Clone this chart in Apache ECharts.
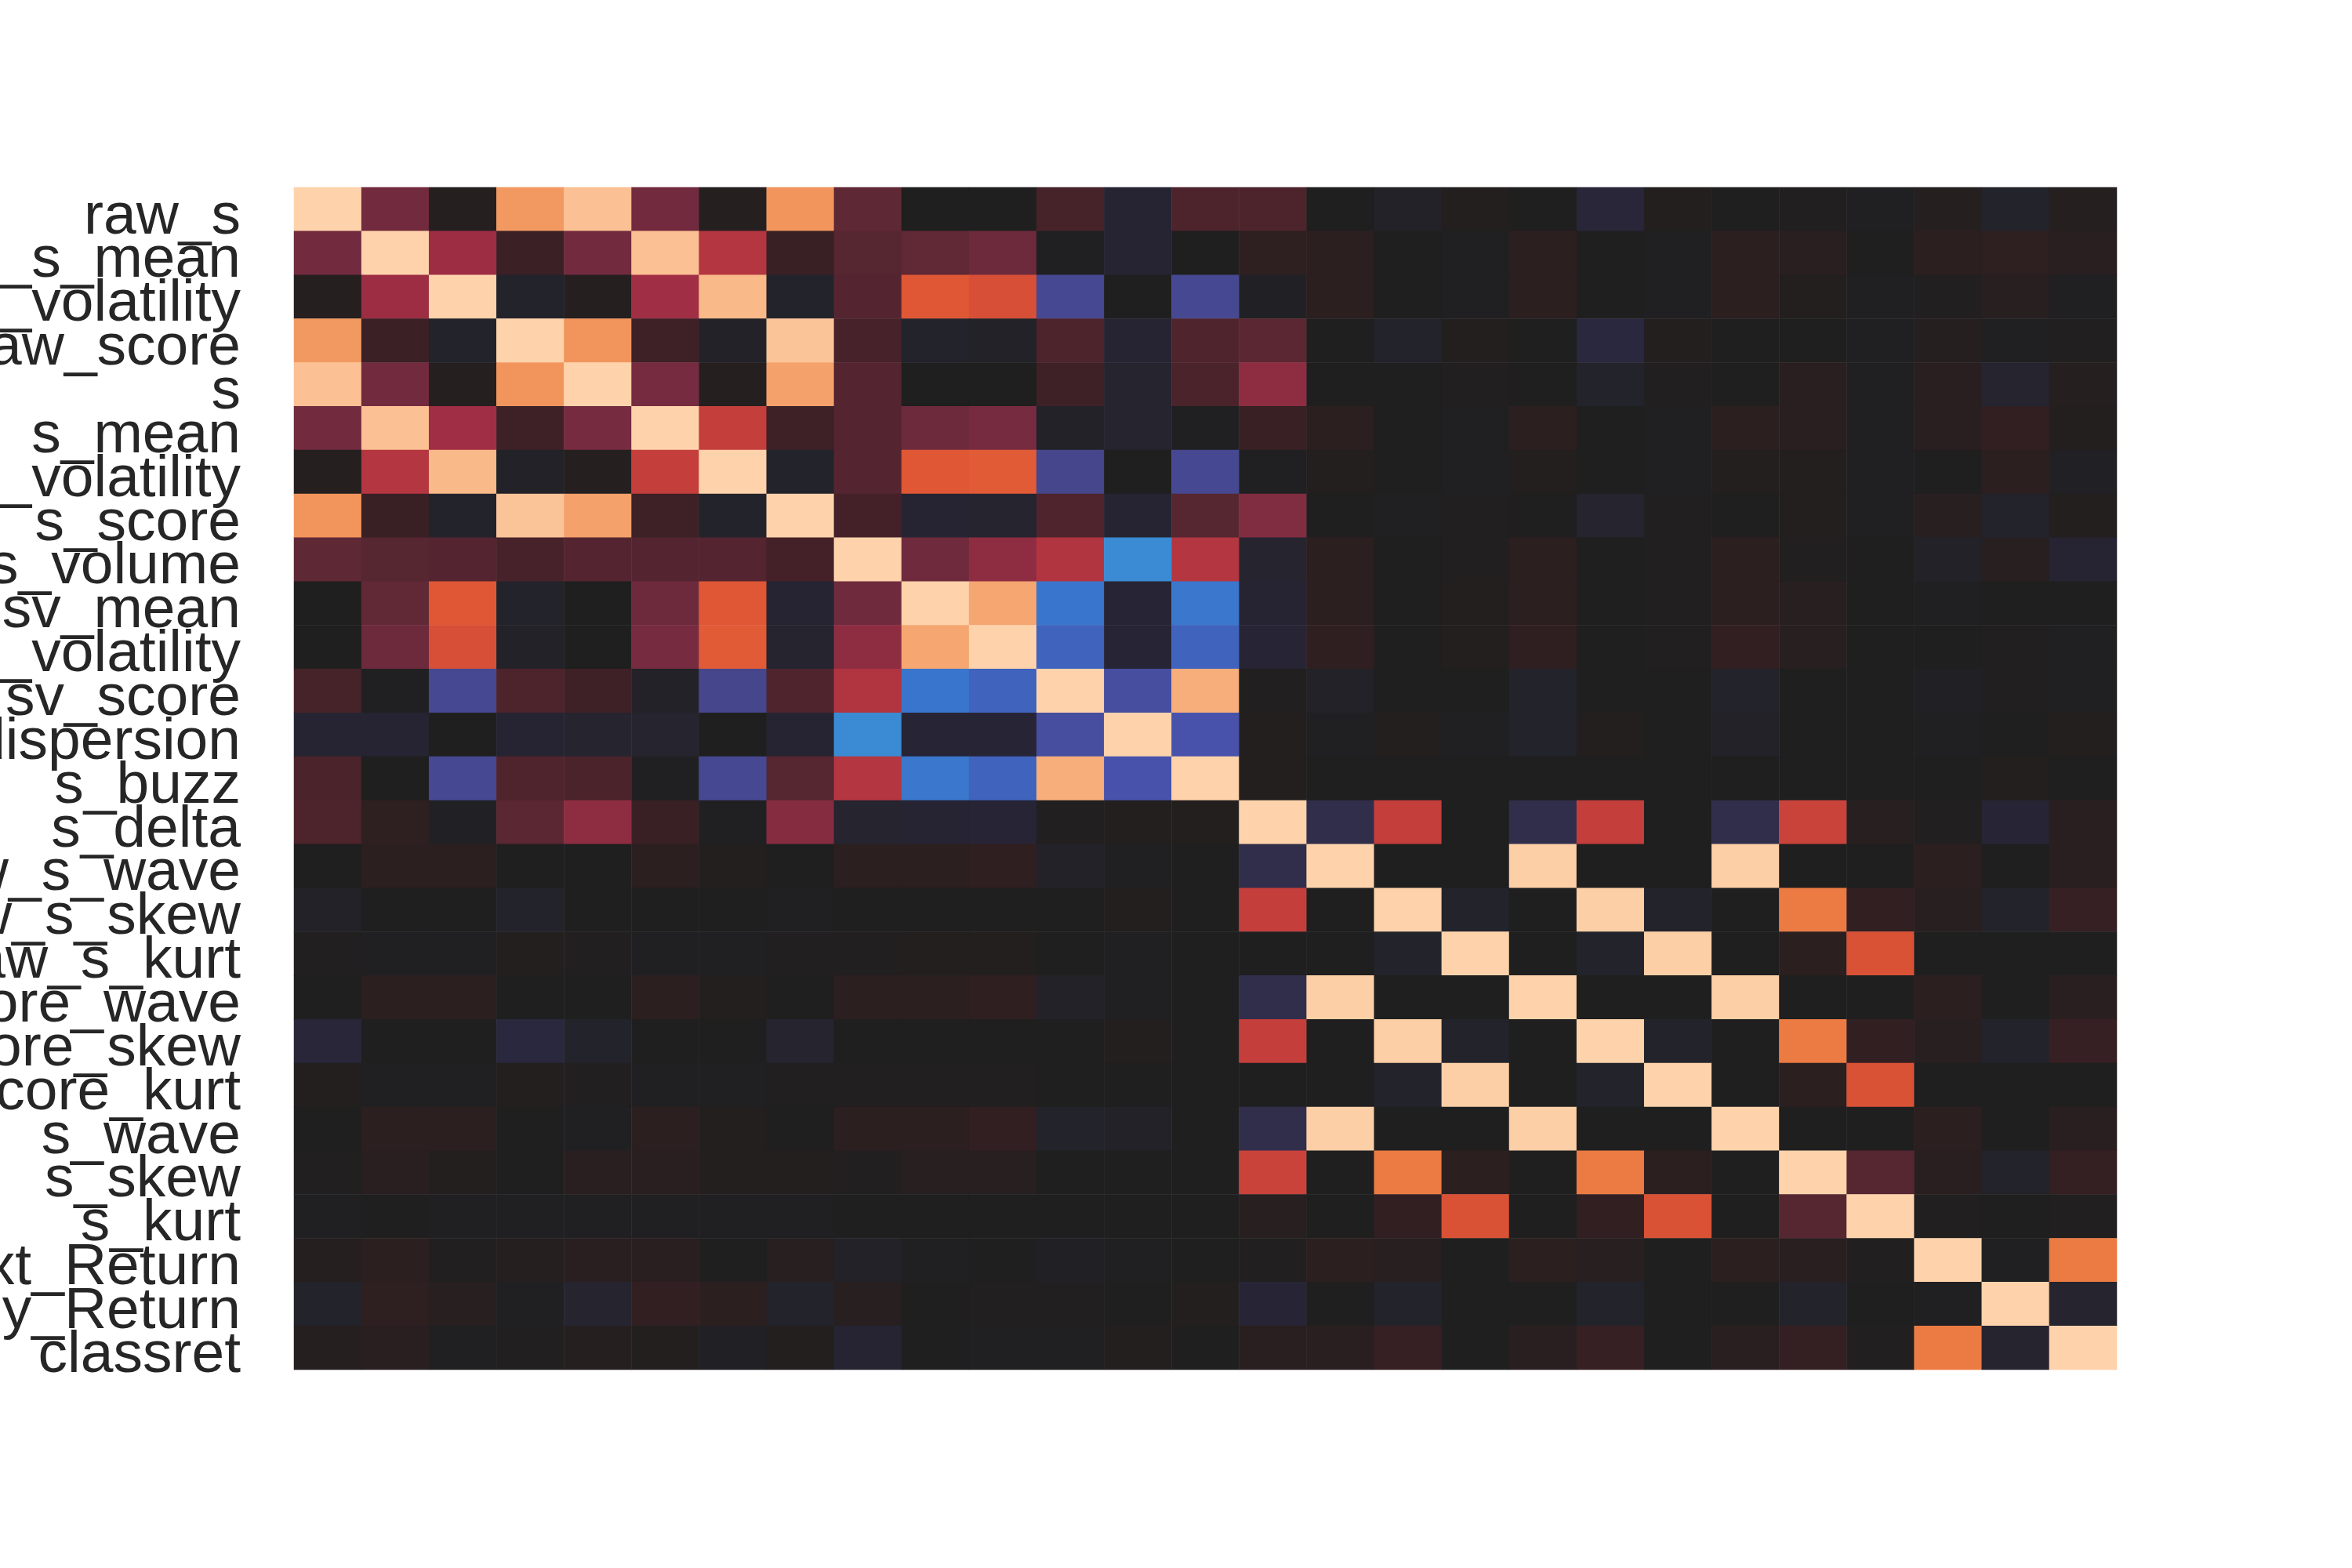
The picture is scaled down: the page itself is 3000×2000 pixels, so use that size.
<!DOCTYPE html>
<html>
<head>
<meta charset="utf-8">
<script src="https://cdn.jsdelivr.net/npm/echarts@6/dist/echarts.min.js"></script>
<style>
  html, body { margin: 0; padding: 0; background: #ffffff; }
  #chart { width: 3000px; height: 2000px; }
</style>
</head>
<body>
<div id="chart"></div>
<script>
  // feature names (rows top to bottom, columns left to right)
  const features = [
    'raw_s', 'raw_s_mean', 'raw_s_volatility', 'raw_score', 's', 's_mean', 's_volatility',
    's_score', 's_volume', 'sv_mean', 'sv_volatility', 'sv_score', 's_dispersion', 's_buzz',
    's_delta', 'raw_s_wave', 'raw_s_skew', 'raw_s_kurt', 'raw_score_wave', 'raw_score_skew',
    'raw_score_kurt', 's_wave', 's_skew', 's_kurt', 'Next_Return', 'Daily_Return', 'classret'
  ];

  // correlation rows
  const row_raw_s            = [1, 0.38, 0.03, 0.85, 0.95, 0.38, 0.03, 0.84, 0.3, 0, 0, 0.19, -0.06, 0.22, 0.22, 0, -0.03, 0.02, 0, -0.08, 0.02, 0, 0.01, -0.01, 0.03, -0.04, 0.03];
  const row_raw_s_mean       = [0.38, 1, 0.48, 0.14, 0.38, 0.95, 0.55, 0.13, 0.26, 0.31, 0.36, -0.01, -0.06, 0, 0.08, 0.07, 0, -0.01, 0.07, 0, -0.01, 0.07, 0.05, 0, 0.07, 0.08, 0.05];
  const row_raw_s_volatility = [0.03, 0.48, 1, -0.04, 0.03, 0.49, 0.93, -0.04, 0.25, 0.7, 0.67, -0.35, 0, -0.35, -0.02, 0.07, 0, -0.01, 0.07, 0, -0.01, 0.07, 0.02, -0.01, 0.01, 0.04, -0.01];
  const row_raw_score        = [0.85, 0.14, -0.04, 1, 0.84, 0.15, -0.03, 0.96, 0.2, -0.04, -0.03, 0.22, -0.06, 0.23, 0.28, 0, -0.04, 0.02, 0, -0.1, 0.02, 0, 0, -0.01, 0.03, -0.01, 0.01];
  const row_s                = [0.95, 0.38, 0.03, 0.84, 1, 0.4, 0.03, 0.87, 0.25, 0, 0, 0.15, -0.05, 0.21, 0.45, 0, 0, 0.01, 0, -0.04, 0.01, 0, 0.06, -0.01, 0.05, -0.05, 0.03];
  const row_s_mean           = [0.38, 0.95, 0.49, 0.15, 0.4, 1, 0.6, 0.15, 0.25, 0.36, 0.4, -0.03, -0.05, -0.01, 0.13, 0.07, 0, -0.01, 0.07, 0, -0.01, 0.07, 0.06, -0.01, 0.05, 0.1, 0.02];
  const row_s_volatility     = [0.03, 0.55, 0.93, -0.03, 0.03, 0.6, 1, -0.04, 0.25, 0.7, 0.71, -0.34, 0, -0.35, -0.01, 0.02, 0, -0.01, 0.02, 0, -0.01, 0.02, 0.02, -0.01, 0, 0.07, -0.02];
  const row_s_score          = [0.84, 0.13, -0.04, 0.96, 0.87, 0.15, -0.04, 1, 0.18, -0.06, -0.05, 0.23, -0.06, 0.26, 0.42, 0, -0.01, 0.01, 0, -0.05, 0.01, 0, 0.02, -0.01, 0.04, -0.04, 0.02];
  const row_s_volume         = [0.3, 0.26, 0.25, 0.2, 0.25, 0.25, 0.25, 0.18, 1, 0.37, 0.45, 0.54, -0.6, 0.55, -0.05, 0.07, 0, 0.01, 0.07, 0, 0.01, 0.07, 0.01, 0, -0.03, 0.04, -0.06];
  const row_sv_mean          = [0, 0.31, 0.7, -0.04, 0, 0.36, 0.7, -0.06, 0.37, 1, 0.88, -0.52, -0.07, -0.53, -0.06, 0.07, 0, 0.02, 0.07, 0, 0.01, 0.07, 0.04, 0, -0.01, 0, 0];
  const row_sv_volatility    = [0, 0.36, 0.67, -0.03, 0, 0.4, 0.71, -0.05, 0.45, 0.88, 1, -0.46, -0.07, -0.46, -0.07, 0.09, 0, 0.02, 0.09, 0, 0.01, 0.1, 0.04, 0, 0, 0.01, -0.01];
  const row_sv_score         = [0.19, -0.01, -0.35, 0.22, 0.15, -0.03, -0.34, 0.23, 0.54, -0.52, -0.46, 1, -0.38, 0.9, 0.01, -0.03, 0, 0, -0.04, 0, 0, -0.04, 0, 0, -0.02, 0.01, -0.01];
  const row_s_dispersion     = [-0.06, -0.06, 0, -0.06, -0.05, -0.05, 0, -0.06, -0.6, -0.07, -0.07, -0.38, 1, -0.4, 0.02, -0.01, 0.02, -0.01, -0.04, 0.02, 0, -0.03, 0, 0, -0.01, 0, 0.02];
  const row_s_buzz           = [0.21, 0, -0.35, 0.23, 0.21, -0.01, -0.35, 0.26, 0.55, -0.53, -0.46, 0.9, -0.4, 1, 0.02, 0, 0, 0, 0, 0, 0, 0, 0, 0, 0, 0.02, 0];
  const row_s_delta          = [0.22, 0.08, -0.02, 0.28, 0.45, 0.13, -0.01, 0.43, -0.05, -0.06, -0.07, 0.01, 0.02, 0.02, 1, -0.15, 0.6, 0, -0.15, 0.6, 0, -0.15, 0.62, 0.04, 0.01, -0.07, 0.05];
  const row_raw_s_wave       = [0, 0.07, 0.07, 0, 0, 0.07, 0.02, 0, 0.07, 0.07, 0.09, -0.03, -0.01, 0, -0.15, 1, 0, 0, 0.99, 0, 0, 0.99, 0, 0, 0.07, 0, 0.06];
  const row_raw_s_skew       = [-0.03, 0, 0, -0.04, 0, 0, 0, -0.01, 0, 0, 0, 0, 0.02, 0, 0.6, 0, 1, -0.04, 0, 0.99, -0.04, 0, 0.78, 0.1, 0.04, -0.04, 0.12];
  const row_raw_s_kurt       = [0.01, -0.01, -0.01, 0.02, 0.01, -0.01, -0.01, 0.01, 0.01, 0.02, 0.02, 0, -0.01, 0, 0, 0, -0.04, 1, 0, -0.04, 0.99, 0, 0.07, 0.68, 0, 0, 0];
  const row_raw_score_wave   = [0, 0.07, 0.07, 0, 0, 0.07, 0.02, 0, 0.07, 0.07, 0.09, -0.03, -0.01, 0, -0.15, 0.99, 0, 0, 1, 0, 0, 0.99, 0, 0, 0.07, 0, 0.06];
  const row_raw_score_skew   = [-0.08, 0, 0, -0.1, -0.04, 0, 0, -0.05, 0, 0, 0, 0, 0.02, 0, 0.6, 0, 0.99, -0.04, 0, 1, -0.04, 0, 0.78, 0.1, 0.04, -0.04, 0.12];
  const row_raw_score_kurt   = [0.02, -0.01, -0.01, 0.02, 0.01, -0.01, -0.01, 0.01, 0.01, 0.01, 0.01, 0, 0, 0, 0, 0, -0.04, 0.99, 0, -0.04, 1, 0, 0.07, 0.68, 0, 0, 0];
  const row_s_wave           = [0, 0.07, 0.07, 0, -0.01, 0.07, 0.02, 0, 0.07, 0.07, 0.1, -0.04, -0.03, 0, -0.15, 0.99, 0, 0, 0.99, 0, 0, 1, 0, 0, 0.07, 0, 0.06];
  const row_s_skew           = [0.01, 0.05, 0.02, 0, 0.06, 0.06, 0.02, 0.02, 0.01, 0.04, 0.04, 0, 0, 0, 0.62, 0, 0.78, 0.07, 0, 0.78, 0.07, 0, 1, 0.26, 0.06, -0.04, 0.11];
  const row_s_kurt           = [-0.01, 0, -0.01, -0.01, -0.01, -0.01, -0.01, -0.01, 0, 0, 0, 0, 0, 0, 0.04, 0, 0.1, 0.68, 0, 0.1, 0.68, 0, 0.26, 1, 0.01, 0, 0.01];
  const row_next_return      = [0.03, 0.07, 0.01, 0.03, 0.05, 0.05, 0, 0.04, -0.03, -0.01, 0, -0.02, -0.01, 0, 0.01, 0.07, 0.04, 0, 0.07, 0.04, 0, 0.07, 0.06, 0.01, 1, -0.01, 0.78];
  const row_daily_return     = [-0.04, 0.08, 0.04, -0.01, -0.05, 0.1, 0.07, -0.04, 0.04, 0, 0.01, 0.01, 0, 0.02, -0.07, 0, -0.04, 0, 0, -0.04, 0, 0, -0.04, 0, -0.01, 1, -0.05];
  const row_classret         = [0.03, 0.05, -0.01, 0.01, 0.03, 0.02, -0.02, 0.02, -0.06, 0, -0.01, -0.01, 0.02, 0, 0.05, 0.06, 0.12, 0, 0.06, 0.12, 0, 0.06, 0.11, 0.01, 0.78, -0.05, 1];

  const corrRows = [
    row_raw_s, row_raw_s_mean, row_raw_s_volatility, row_raw_score, row_s, row_s_mean,
    row_s_volatility, row_s_score, row_s_volume, row_sv_mean, row_sv_volatility, row_sv_score,
    row_s_dispersion, row_s_buzz, row_s_delta, row_raw_s_wave, row_raw_s_skew, row_raw_s_kurt,
    row_raw_score_wave, row_raw_score_skew, row_raw_score_kurt, row_s_wave, row_s_skew,
    row_s_kurt, row_next_return, row_daily_return, row_classret
  ];

  // icefire-like ramp, stops every 0.1 from -0.6 to 1.0
  const iceFire = [
    '#3a8bd3', '#3a6fcb', '#4852ab', '#433e76', '#383459', '#2a283e', '#1f1f1f',
    '#321f21', '#48222a', '#5f2835', '#772b40', '#a52e44', '#c43e3c', '#df5735',
    '#ee8447', '#f7ae7b', '#fed3ab'
  ];

  const cells = [];
  corrRows.forEach(function (row, i) {
    row.forEach(function (v, j) {
      cells.push([j, i, v]);
    });
  });

  const chart = echarts.init(document.getElementById('chart'));
  chart.setOption({
    backgroundColor: '#ffffff',
    animation: false,
    grid: {
      left: 375, right: 300, top: 239, bottom: 253,
      containLabel: false,
      outerBoundsMode: 'none'   // labels run off the left edge, as in the reference
    },
    xAxis: {
      type: 'category',
      data: features,
      axisLine: { show: false },
      axisTick: { show: false },
      axisLabel: { show: false },
      splitLine: { show: false }
    },
    yAxis: {
      type: 'category',
      data: features,
      inverse: true,
      axisLine: { show: false },
      axisTick: { show: false },
      splitLine: { show: false },
      axisLabel: {
        interval: 0,
        margin: 68,
        fontFamily: 'Liberation Sans, Arial, sans-serif',
        fontSize: 75,
        color: '#262626',
        // top-aligned with a short line box: baseline lands near the row's lower edge
        verticalAlign: 'top',
        lineHeight: 20
      }
    },
    visualMap: {
      show: false,
      min: -0.6,
      max: 1,
      dimension: 2,
      inRange: { color: iceFire }
    },
    series: [{
      type: 'heatmap',
      data: cells,
      itemStyle: { borderWidth: 0 },
      emphasis: { disabled: true }
    }]
  });
</script>
</body>
</html>
